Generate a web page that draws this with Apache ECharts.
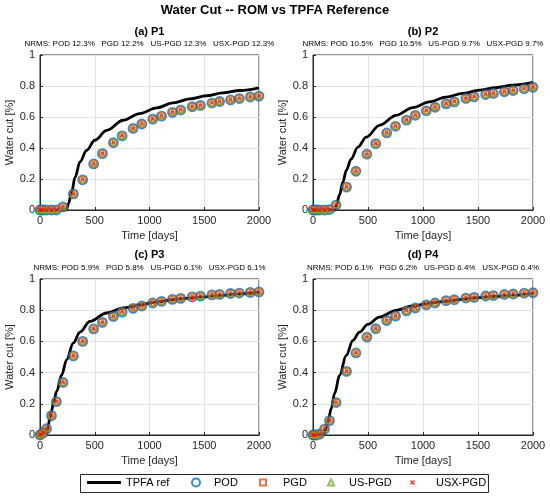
<!DOCTYPE html>
<html>
<head>
<meta charset="utf-8">
<script src="https://cdn.jsdelivr.net/npm/echarts@6/dist/echarts.min.js"></script>
<style>
html,body{margin:0;padding:0;background:#fff;}
#chart{width:550px;height:497px;}
</style>
</head>
<body>
<div id="chart"></div>
<script>
// ---- data ----
var panelTitles = ['(a) P1', '(b) P2', '(c) P3', '(d) P4'];
var nrmsLabels = [
  'NRMS: POD 12.3%   PGD 12.2%   US-PGD 12.3%   USX-PGD 12.3%',
  'NRMS: POD 10.5%   PGD 10.5%   US-PGD 9.7%   USX-PGD 9.7%',
  'NRMS: POD 5.9%   PGD 5.8%   US-PGD 6.1%   USX-PGD 6.1%',
  'NRMS: POD 6.1%   PGD 6.2%   US-PGD 6.4%   USX-PGD 6.4%'
];
var methodNames = ['POD', 'PGD', 'US-PGD', 'USX-PGD'];
var refName = 'TPFA ref';
var xTicks = [0, 500, 1000, 1500, 2000];
var yTicks = [0, 0.2, 0.4, 0.6, 0.8, 1];

// ROM output times (days)
var romTimes = [0, 10, 30, 60, 105, 150, 210, 305, 390, 490, 570, 670, 750, 850, 930, 1030, 1110, 1210, 1285, 1390, 1465, 1570, 1640, 1740, 1820, 1920, 2000];
// ROM water cut per producer (POD / PGD / US-PGD / USX-PGD overlap)
var romP1 = [0, 0, 0, 0, 0, 0, 0.02, 0.104, 0.195, 0.297, 0.364, 0.434, 0.478, 0.526, 0.555, 0.586, 0.606, 0.630, 0.645, 0.666, 0.675, 0.690, 0.700, 0.710, 0.719, 0.729, 0.735];
var romP2 = [0, 0, 0, 0, 0, 0.003, 0.032, 0.148, 0.25, 0.36, 0.428, 0.497, 0.54, 0.58, 0.611, 0.64, 0.663, 0.685, 0.698, 0.72, 0.73, 0.745, 0.752, 0.763, 0.771, 0.782, 0.792];
var romP3 = [0, 0.005, 0.015, 0.04, 0.124, 0.214, 0.337, 0.507, 0.6, 0.68, 0.722, 0.76, 0.788, 0.812, 0.827, 0.846, 0.857, 0.869, 0.876, 0.885, 0.89, 0.898, 0.901, 0.907, 0.91, 0.914, 0.917];
var romP4 = [0, 0, 0, 0.005, 0.038, 0.092, 0.208, 0.408, 0.526, 0.627, 0.681, 0.734, 0.762, 0.796, 0.814, 0.834, 0.846, 0.861, 0.867, 0.878, 0.882, 0.891, 0.894, 0.901, 0.904, 0.909, 0.912];

// TPFA reference curves
var refTimeP1 = [0, 200, 240, 260, 290, 320, 365, 425, 500, 610, 760, 910, 1065, 1215, 1370, 1520, 1670, 1825, 2000];
var refP1     = [0, 0, 0, 0.04, 0.12, 0.21, 0.31, 0.385, 0.45, 0.514, 0.579, 0.622, 0.659, 0.691, 0.717, 0.737, 0.756, 0.771, 0.788];
var refTimeP2 = [0, 150, 200, 212, 242, 272, 302, 347, 408, 484, 605, 756, 908, 1059, 1210, 1361, 1512, 1663, 1814, 2000];
var refP2     = [0, 0, 0, 0.03, 0.1, 0.18, 0.255, 0.33, 0.406, 0.47, 0.546, 0.611, 0.661, 0.698, 0.728, 0.752, 0.773, 0.79, 0.805, 0.823];
var refTimeP3 = [0, 40, 55, 65, 76, 90, 106, 125, 152, 198, 243, 304, 365, 456, 608, 760, 912, 1064, 1216, 1368, 1520, 1672, 1824, 2000];
var refP3     = [0, 0, 0, 0.02, 0.064, 0.11, 0.155, 0.215, 0.28, 0.385, 0.482, 0.589, 0.66, 0.728, 0.782, 0.814, 0.835, 0.852, 0.867, 0.877, 0.886, 0.895, 0.904, 0.915];
var refTimeP4 = [0, 80, 100, 115, 136, 166, 196, 242, 302, 363, 423, 498, 604, 755, 906, 1057, 1208, 1360, 1511, 1662, 1813, 2000];
var refP4     = [0, 0, 0.005, 0.035, 0.085, 0.17, 0.266, 0.383, 0.511, 0.607, 0.66, 0.709, 0.756, 0.799, 0.827, 0.845, 0.857, 0.87, 0.88, 0.888, 0.895, 0.908];

var romAll = [romP1, romP2, romP3, romP4];
var refTimes = [refTimeP1, refTimeP2, refTimeP3, refTimeP4];
var refAll = [refP1, refP2, refP3, refP4];

// ---- layout / style ----
var FONT = 'Liberation Sans, Arial, Helvetica, sans-serif';
var grids = [
  {left: 40, top: 55, width: 219, height: 155},
  {left: 313, top: 55, width: 220, height: 155},
  {left: 40, top: 279, width: 219, height: 156},
  {left: 313, top: 279, width: 220, height: 156}
];
var titleTops = [26, 26, 249, 249];
var nrmsTops = [40, 40, 264, 264];

var markerStyles = [
  {symbol: 'circle', size: 9, itemStyle: {color: 'rgba(0,0,0,0)', borderColor: '#0072BD', borderWidth: 1.8}},
  {symbol: 'rect', size: 6, itemStyle: {color: 'rgba(0,0,0,0)', borderColor: '#D95319', borderWidth: 1.5}},
  {symbol: 'triangle', size: 5, itemStyle: {color: 'rgba(0,0,0,0)', borderColor: '#77AC30', borderWidth: 1.3}},
  {symbol: 'path://M0,2L2,0L5,3L8,0L10,2L7,5L10,8L8,10L5,7L2,10L0,8L3,5Z', size: 4, itemStyle: {color: '#FF0000'}}
];

var option = {
  animation: false,
  backgroundColor: '#fff',
  textStyle: {fontFamily: FONT},
  title: [],
  grid: [],
  xAxis: [],
  yAxis: [],
  series: [],
  legend: [],
  graphic: [{
    type: 'rect', left: 80, top: 474, z: 0,
    shape: {width: 408, height: 18},
    style: {fill: '#fff', stroke: '#262626', lineWidth: 1}
  }]
};

option.title.push({
  text: 'Water Cut -- ROM vs TPFA Reference',
  left: 275, top: 4, textAlign: 'center', padding: 0,
  textStyle: {fontFamily: FONT, fontSize: 13, fontWeight: 'bold', color: '#000'}
});

for (var p = 0; p < 4; p++) {
  var g = grids[p];
  var cx = g.left + g.width / 2;
  option.title.push({
    text: panelTitles[p], left: cx, top: titleTops[p], textAlign: 'center', padding: 0,
    textStyle: {fontFamily: FONT, fontSize: 11, fontWeight: 'bold', color: '#000'}
  });
  option.title.push({
    text: nrmsLabels[p], left: cx, top: nrmsTops[p], textAlign: 'center', padding: 0,
    textStyle: {fontFamily: FONT, fontSize: 8, fontWeight: 'normal', color: '#000'}
  });
  option.grid.push({
    left: g.left, top: g.top, width: g.width, height: g.height,
    show: true, borderColor: '#262626', borderWidth: 1, backgroundColor: '#fff'
  });
  option.xAxis.push({
    type: 'value', gridIndex: p, min: xTicks[0], max: xTicks[xTicks.length - 1], interval: 500,
    name: 'Time [days]', nameLocation: 'middle', nameGap: 20,
    nameTextStyle: {fontFamily: FONT, fontSize: 11, color: '#262626'},
    axisLine: {onZero: false, lineStyle: {color: '#262626'}},
    axisTick: {inside: true, length: 3, lineStyle: {color: '#262626'}},
    axisLabel: {fontFamily: FONT, fontSize: 11, color: '#262626', margin: 5,
      formatter: function (v) { return String(v); }},
    splitLine: {show: true, lineStyle: {color: '#e2e2e2', width: 1}}
  });
  option.yAxis.push({
    type: 'value', gridIndex: p, min: yTicks[0], max: yTicks[yTicks.length - 1], interval: 0.2,
    name: 'Water cut [%]', nameLocation: 'middle', nameGap: 23,
    nameTextStyle: {fontFamily: FONT, fontSize: 11, color: '#262626'},
    axisLine: {onZero: false, lineStyle: {color: '#262626'}},
    axisTick: {inside: true, length: 3, lineStyle: {color: '#262626'}},
    axisLabel: {fontFamily: FONT, fontSize: 11, color: '#262626', margin: 5,
      formatter: function (v) { return String(v); }},
    splitLine: {show: true, lineStyle: {color: '#e2e2e2', width: 1}}
  });
  var refData = refTimes[p].map(function (t, i) { return [t, refAll[p][i]]; });
  option.series.push({
    name: refName, type: 'line', xAxisIndex: p, yAxisIndex: p,
    data: refData, symbol: 'none', showSymbol: false, smooth: 0.35, smoothMonotone: 'x',
    lineStyle: {color: '#000', width: 2.8}, itemStyle: {color: '#000'},
    emphasis: {disabled: true}, z: 2
  });
  var romData = romTimes.map(function (t, i) { return [t, romAll[p][i]]; });
  for (var m = 0; m < 4; m++) {
    var ms = markerStyles[m];
    option.series.push({
      name: methodNames[m], type: 'scatter', xAxisIndex: p, yAxisIndex: p,
      data: romData, symbol: ms.symbol, symbolSize: ms.size,
      itemStyle: ms.itemStyle, emphasis: {disabled: true}, z: 3 + m
    });
  }
}

// legend entries
var legendNames = [refName].concat(methodNames);
var legendLefts = [87, 191, 259, 327, 410];
var legendW = [34, 8, 6, 6, 5];
var legendH = [2.8, 8, 6, 6, 5];
var legendTextPad = [0, 9, 12, 10, 16];
for (var k = 0; k < legendNames.length; k++) {
  var item = {name: legendNames[k]};
  if (k === 0) {
    item.icon = 'rect';
    item.itemStyle = {color: '#000', borderWidth: 0};
  }
  option.legend.push({
    data: [item], left: legendLefts[k], top: 483 - Math.max(legendH[k], 12) / 2, padding: 0,
    itemWidth: legendW[k], itemHeight: legendH[k], itemGap: 0, selectedMode: false,
    textStyle: {fontFamily: FONT, fontSize: 11, color: '#000', padding: [0, 0, 0, legendTextPad[k]]},
    z: 5
  });
}

var chart = echarts.init(document.getElementById('chart'), null, {renderer: 'canvas'});
chart.setOption(option);
</script>
</body>
</html>
